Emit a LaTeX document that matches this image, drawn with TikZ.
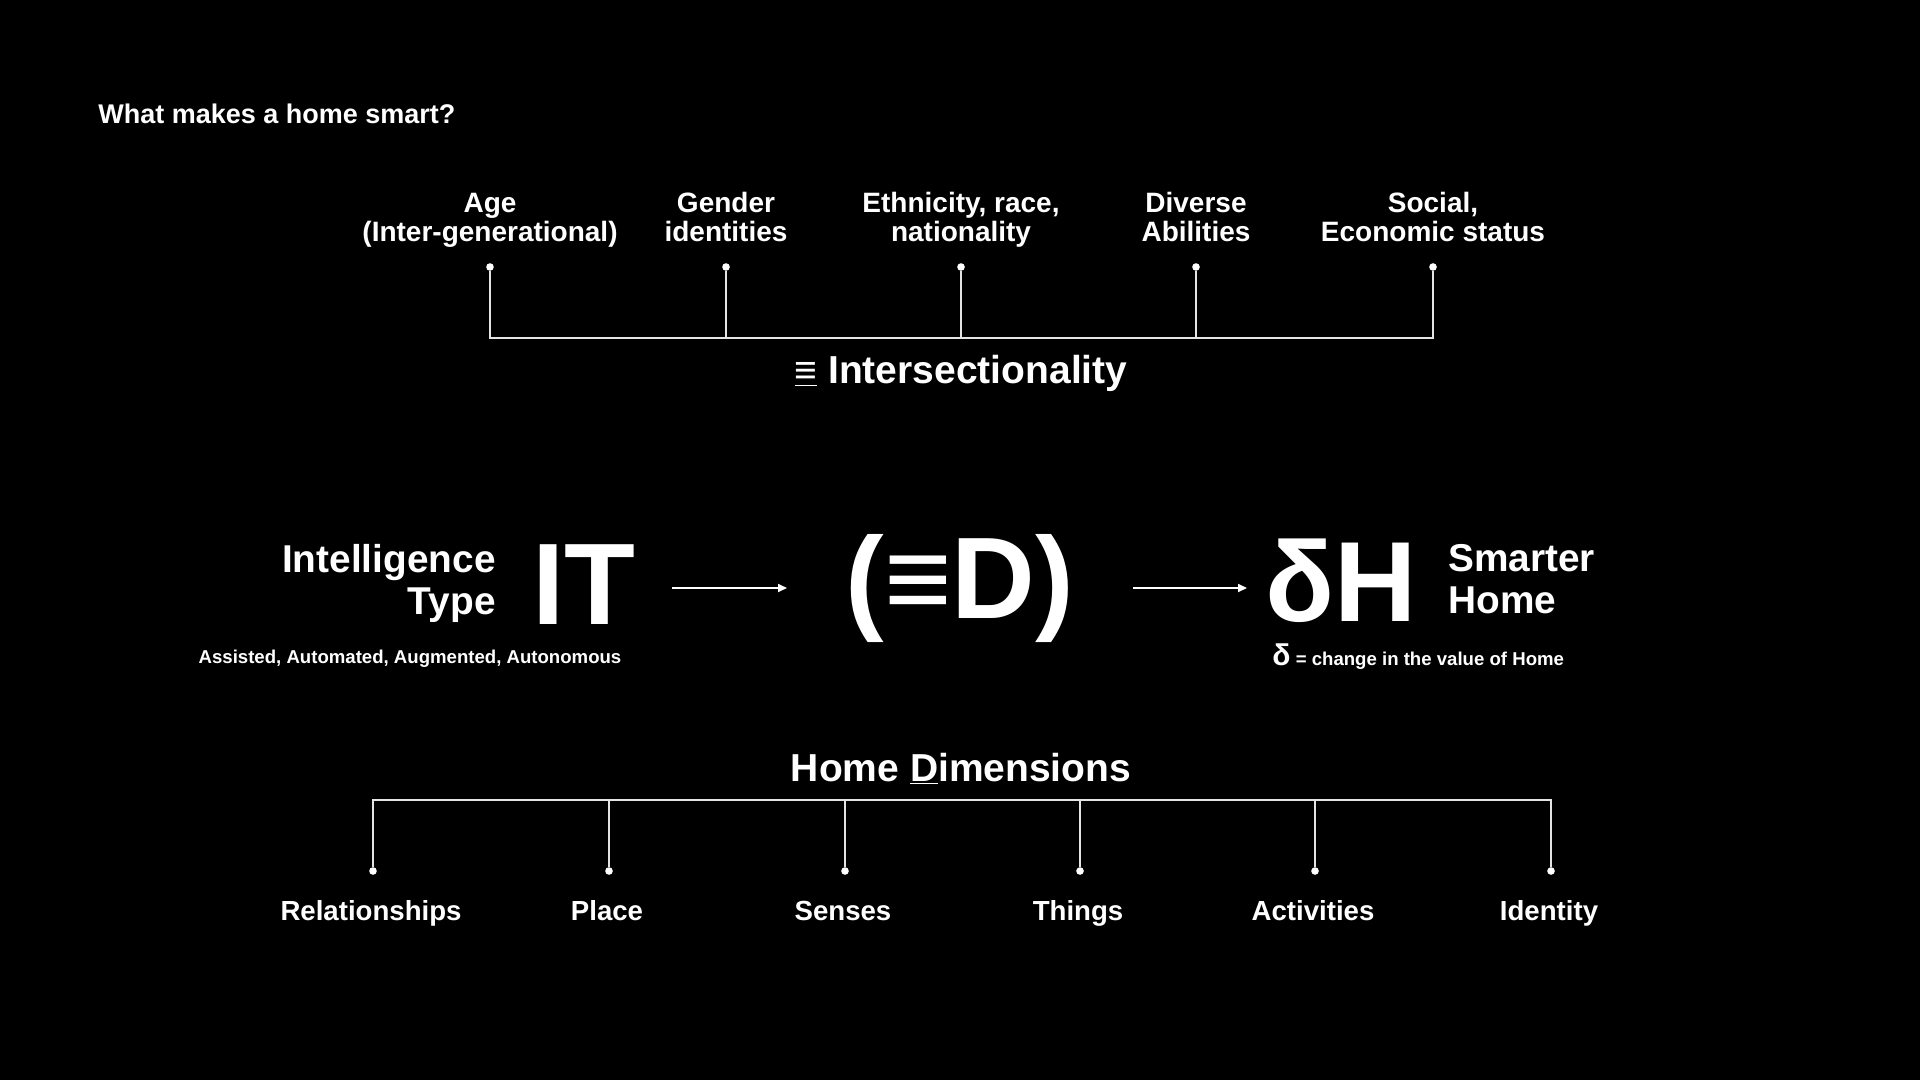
\documentclass[tikz,border=0pt]{standalone}
\usepackage{fontspec}
\setmainfont{Liberation Sans}
\usetikzlibrary{arrows.meta}
\definecolor{linec}{HTML}{E4E4E4}
\tikzset{
 txt/.style={text=white, inner sep=0pt},
 lbl/.style={txt, font=\bfseries\fontsize{14}{14.5}\selectfont, align=center, anchor=south, text depth=0pt},
 dimlbl/.style={txt, font=\bfseries\fontsize{13.8}{14.5}\selectfont, anchor=base},
 head/.style={txt, font=\bfseries\fontsize{19.5}{21}\selectfont, anchor=base},
 midlbl/.style={txt, font=\bfseries\fontsize{19.4}{21}\selectfont, text depth=0pt},
 big/.style={txt, font=\bfseries\fontsize{58}{60}\selectfont, anchor=base},
 small/.style={txt, font=\bfseries\fontsize{9.3}{11}\selectfont, anchor=base},
 dot/.style={circle, fill=white, inner sep=0pt, minimum size=3.8pt},
 conn/.style={draw=linec, line width=0.85pt},
 arr/.style={draw=white, line width=0.85pt, -{Triangle[length=4.5pt,width=4pt]}},
}
\begin{document}
\begin{tikzpicture}[x=0.5pt,y=-0.5pt]
\fill[black] (0,0) rectangle (1920,1080);
\useasboundingbox (0,0) rectangle (1920,1080);
\node[txt, font=\bfseries\fontsize{13.5}{15}\selectfont, anchor=base west] (title) at (98,124) {What makes a home smart?};

% top: intersectionality
\node[lbl] (t1) at (490,242) {Age\\(Inter-generational)};
\node[lbl] (t2) at (726,242) {Gender\\identities};
\node[lbl] (t3) at (961,242) {Ethnicity, race,\\nationality};
\node[lbl] (t4) at (1196,242) {Diverse\\Abilities};
\node[lbl] (t5) at (1433,242) {Social,\\Economic status};
\node[dot] (a1) at (490,267) {};
\node[dot] (a2) at (726,267) {};
\node[dot] (a3) at (961,267) {};
\node[dot] (a4) at (1196,267) {};
\node[dot] (a5) at (1433,267) {};
\coordinate (ibar) at (961,338);
\draw[conn] (a1) |- (ibar) -| (a5);
\draw[conn] (a2) -- (a2 |- ibar);
\draw[conn] (a3) -- (a3 |- ibar);
\draw[conn] (a4) -- (a4 |- ibar);
\node[head] (inter) at (961,383) {\underline{≡} Intersectionality};

% middle
\node[midlbl, align=right, anchor=south east] (itlabel) at (496,615) {Intelligence\\Type};
\node[big, anchor=base west] (IT) at (532,624) {IT};
\node[big] (ED) at (960,618) {(≡D)};
\node[big, font=\bfseries\fontsize{57}{60}\selectfont] (dH) at (1341,621) {δH};
\node[midlbl, align=left, anchor=south west] (smart) at (1448,614) {Smarter\\Home};
\coordinate (r1a) at (672,588);
\coordinate (r1b) at (787,588);
\coordinate (r2a) at (1133,588);
\coordinate (r2b) at (1247,588);
\draw[arr] (r1a) -- (r1b);
\draw[arr] (r2a) -- (r2b);
\node[small] (types) at (410,663) {Assisted, Automated, Augmented, Autonomous};
\node[small, anchor=base west] (delta) at (1272,665) {{\fontsize{15}{15}\selectfont δ} = change in the value of Home};

% bottom: home dimensions
\node[head] (homedim) at (961,781) {Home \underline{D}imensions};
\coordinate (dbar) at (961,800);
\node[dot] (d1) at (373,871) {};
\node[dot] (d2) at (609,871) {};
\node[dot] (d3) at (845,871) {};
\node[dot] (d4) at (1080,871) {};
\node[dot] (d5) at (1315,871) {};
\node[dot] (d6) at (1551,871) {};
\draw[conn] (d1) |- (dbar) -| (d6);
\draw[conn] (d2) -- (d2 |- dbar);
\draw[conn] (d3) -- (d3 |- dbar);
\draw[conn] (d4) -- (d4 |- dbar);
\draw[conn] (d5) -- (d5 |- dbar);
\node[dimlbl] (b1) at (371,920) {Relationships};
\node[dimlbl] (b2) at (607,920) {Place};
\node[dimlbl] (b3) at (843,920) {Senses};
\node[dimlbl] (b4) at (1078,920) {Things};
\node[dimlbl] (b5) at (1313,920) {Activities};
\node[dimlbl] (b6) at (1549,920) {Identity};
\end{tikzpicture}
\end{document}
